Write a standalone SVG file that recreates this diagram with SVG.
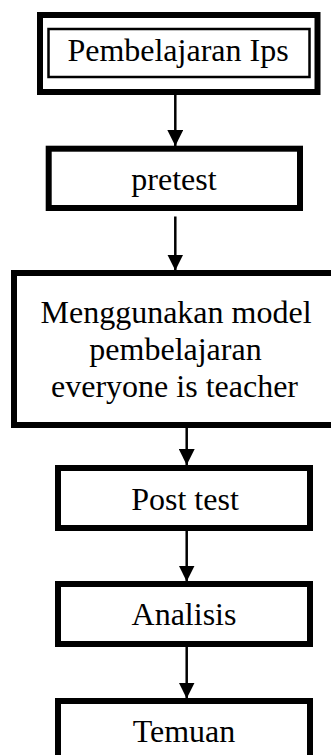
<svg xmlns="http://www.w3.org/2000/svg" width="331" height="755" viewBox="0 0 331 755">
<style>
.box{fill:#fff;stroke:#000;stroke-width:6}
.inner{fill:none;stroke:#000;stroke-width:2.5}
.lbl{font-family:'Liberation Serif','DejaVu Serif',serif;font-size:32px;fill:#000;text-anchor:middle}
.conn{stroke:#000;stroke-width:2.5;fill:none}
</style>
<defs>
<marker id="arr" markerUnits="userSpaceOnUse" markerWidth="18" markerHeight="16" refX="16" refY="8" orient="auto">
<path d="M0,0 L16,8 L0,16 Z" fill="#000"/>
</marker>
</defs>
<rect width="331" height="755" fill="#fff"/>
<g id="connectors">
<line class="conn" x1="175.3" y1="95" x2="175.3" y2="146" marker-end="url(#arr)"/>
<line class="conn" x1="175.3" y1="216.5" x2="175.3" y2="270.5" marker-end="url(#arr)"/>
<line class="conn" x1="186.7" y1="428" x2="186.7" y2="465" marker-end="url(#arr)"/>
<line class="conn" x1="186.7" y1="531" x2="186.7" y2="581.5" marker-end="url(#arr)"/>
<line class="conn" x1="186.7" y1="647" x2="186.7" y2="698.5" marker-end="url(#arr)"/>
</g>
<g id="n1">
<rect class="box" x="40" y="15" width="277.5" height="77"/>
<rect class="inner" x="48.5" y="29" width="261" height="48"/>
<text class="lbl" x="178" y="61">Pembelajaran Ips</text>
</g>
<g id="n2">
<rect class="box" x="48.7" y="148.7" width="251.3" height="59.3"/>
<text class="lbl" x="174" y="190">pretest</text>
</g>
<g id="n3">
<rect class="box" x="14" y="273" width="330" height="152"/>
<text class="lbl" x="176" y="323">Menggunakan model</text>
<text class="lbl" x="175.5" y="360">pembelajaran</text>
<text class="lbl" x="174.5" y="397">everyone is teacher</text>
</g>
<g id="n4">
<rect class="box" x="58" y="468" width="252" height="60"/>
<text class="lbl" x="185" y="510">Post test</text>
</g>
<g id="n5">
<rect class="box" x="58" y="584" width="252" height="60"/>
<text class="lbl" x="184" y="625">Analisis</text>
</g>
<g id="n6">
<rect class="box" x="58" y="701" width="252" height="80"/>
<text class="lbl" x="184" y="742">Temuan</text>
</g>
</svg>
